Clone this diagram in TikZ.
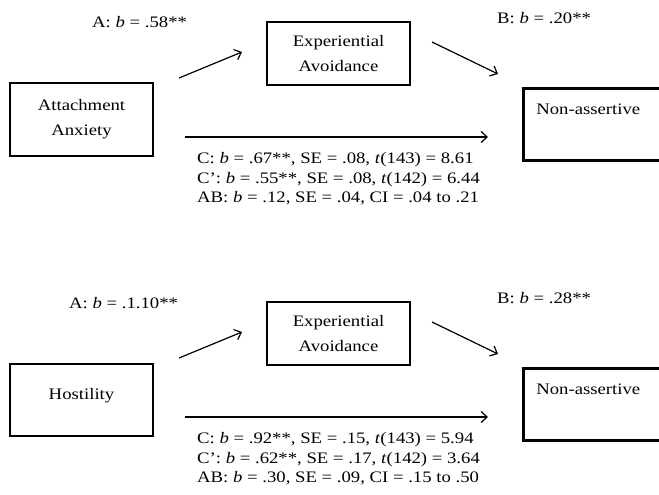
\documentclass[tikz,border=0pt]{standalone}
\usepackage{fontspec}
\setmainfont{Liberation Serif}[FakeStretch=1.17]
\usetikzlibrary{arrows.meta}
\begin{document}
\begin{tikzpicture}[x=1pt,y=-1pt,
  every node/.style={font=\fontsize{16}{25}\selectfont},
  varbox/.style={draw, line width=2.6pt, inner sep=0pt, align=center},
  outbox/.style={varbox, anchor=north west, minimum height=72pt,
    text width=174pt, inner xsep=13pt, align=left,
    text height=10pt, text depth=29pt},
  lbl/.style={anchor=base west, inner sep=0pt},
  effect/.style={line width=1.2pt, -{Straight Barb[length=6pt,width=11pt]}}]
\useasboundingbox (0,0) rectangle (659,495);
\clip (0,0) rectangle (659,495);

% ---- upper model: attachment anxiety ----
\node[varbox, minimum width=143pt, minimum height=73pt] (att) at (81.5,119.5) {Attachment\\Anxiety};
\node[varbox, minimum width=143pt, minimum height=63pt] (exp1) at (338.5,53.5) {Experiential\\Avoidance};
\node[outbox] (non1) at (522,87) {Non-assertive};

\coordinate (a1s) at (179,78);  \coordinate (a1e) at (242,52);
\coordinate (b1s) at (432,42);  \coordinate (b1e) at (498,74);
\coordinate (c1s) at (185,137); \coordinate (c1e) at (488,137);
\draw[effect] (a1s) -- (a1e);
\draw[effect] (b1s) -- (b1e);
\draw[effect] (c1s) -- (c1e);

\node[lbl] (la1) at (92,27.5) {A: \textit{b} = .58**};
\node[lbl] (lb1) at (497,23.5) {B: \textit{b} = .20**};
\node[lbl] (lc1) at (197,163.5) {C: \textit{b} = .67**, SE = .08, \textit{t}(143) = 8.61};
\node[lbl] (lcp1) at (197,183) {C’: \textit{b} = .55**, SE = .08, \textit{t}(142) = 6.44};
\node[lbl] (lab1) at (197,202.5) {AB: \textit{b} = .12, SE = .04, CI = .04 to .21};

% ---- lower model: hostility ----
\node[varbox, minimum width=143pt, minimum height=72pt, text height=11pt, text depth=12pt] (hos) at (81.5,400) {Hostility};
\node[varbox, minimum width=143pt, minimum height=63pt] (exp2) at (338.5,333.5) {Experiential\\Avoidance};
\node[outbox] (non2) at (522,367) {Non-assertive};

\coordinate (a2s) at (179,358); \coordinate (a2e) at (242,332);
\coordinate (b2s) at (432,322); \coordinate (b2e) at (498,354);
\coordinate (c2s) at (185,417); \coordinate (c2e) at (488,417);
\draw[effect] (a2s) -- (a2e);
\draw[effect] (b2s) -- (b2e);
\draw[effect] (c2s) -- (c2e);

\node[lbl] (la2) at (69,308.5) {A: \textit{b} = .1.10**};
\node[lbl] (lb2) at (497,303.5) {B: \textit{b} = .28**};
\node[lbl] (lc2) at (197,443.5) {C: \textit{b} = .92**, SE = .15, \textit{t}(143) = 5.94};
\node[lbl] (lcp2) at (197,463) {C’: \textit{b} = .62**, SE = .17, \textit{t}(142) = 3.64};
\node[lbl] (lab2) at (197,482.5) {AB: \textit{b} = .30, SE = .09, CI = .15 to .50};
\end{tikzpicture}
\end{document}
